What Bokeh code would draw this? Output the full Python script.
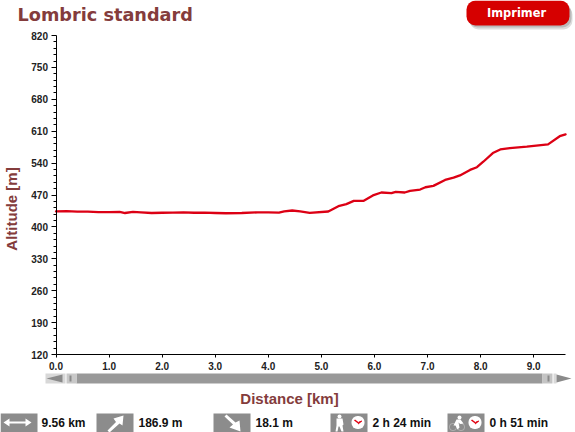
from bokeh.plotting import figure
from bokeh.embed import file_html
from bokeh.resources import INLINE
from bokeh.models import Label, BoxAnnotation, PolyAnnotation, FixedTicker, Range1d, NumeralTickFormatter

TITLE = "Lombric standard"
BUTTON = "Imprimer"
X_TITLE = "Distance [km]"
Y_TITLE = "Altitude [m]"
distance_km = [0, .2, .4, .6, .8, 1.0, 1.2, 1.3, 1.45, 1.6, 1.8, 2.0, 2.2, 2.4, 2.6, 2.8, 3.0, 3.2, 3.5, 3.8, 4.0,
               4.2, 4.3, 4.45, 4.6, 4.78, 5.13, 5.32, 5.47, 5.61, 5.79, 5.97, 6.13, 6.32, 6.40, 6.57, 6.67, 6.86,
               6.96, 7.11, 7.33, 7.49, 7.61, 7.80, 7.93, 8.05, 8.23, 8.37, 8.55, 8.87, 9.27, 9.49, 9.60]
altitude_m = [434, 434.5, 433.5, 433.5, 432.5, 432.5, 433, 430.5, 433, 432, 430.5, 431, 431.5, 432, 431, 431.5, 430.5,
              430, 430.5, 432, 432, 431.5, 434, 436, 434, 431, 433.8, 445.5, 450, 457, 457, 469, 475.5, 474, 477,
              475.5, 479, 482, 487, 490, 503, 508, 513, 525, 531, 543, 562, 570, 573, 576, 581, 599, 603]
y_ticks = [120, 190, 260, 330, 400, 470, 540, 610, 680, 750, 820]
x_ticks = [0, 1, 2, 3, 4, 5, 6, 7, 8, 9]
stat_labels = ["9.56 km", "186.9 m", "18.1 m", "2 h 24 min", "0 h 51 min"]

BROWN = "#843c3c"
RED = "#dc0014"
W, H = 575, 432
# pixel place of the plot area in the page
X0_PX, XK = 55.5, 53.08       # x of km 0, pixels per km
Y820_PX, Y120_PX = 35.0, 354.0
YK = (Y120_PX - Y820_PX) / 700

p = figure(width=W, height=H, output_backend="svg", toolbar_location=None,
           x_range=Range1d(-X0_PX / XK, (W - X0_PX) / XK),
           y_range=Range1d(120 - (H - Y120_PX) / YK, 820 + Y820_PX / YK),
           min_border=0, background_fill_color="white", border_fill_color="white")
p.margin = (0, 0, 0, 0)
p.outline_line_color = None
p.grid.visible = False

p.line(distance_km, altitude_m, line_color=RED, line_width=2.3, line_join="round", line_cap="round")

for ax in (p.xaxis[0], p.yaxis[0]):
    ax.axis_line_color = "black"
    ax.major_tick_line_color = "black"
    ax.minor_tick_line_color = "black"
    ax.major_tick_in = 0
    ax.minor_tick_in = 0
    ax.major_label_text_font = "Liberation Sans"
    ax.major_label_text_font_style = "bold"
    ax.major_label_text_font_size = "10px"
    ax.major_label_text_color = "#222222"
p.xaxis.fixed_location = 120
p.yaxis.fixed_location = 0
p.xaxis.bounds = (0, 9.6)
p.yaxis.bounds = (120, 820)
p.xaxis.ticker = FixedTicker(ticks=x_ticks)
p.yaxis.ticker = FixedTicker(ticks=y_ticks, minor_ticks=[a + 14 * i for a in y_ticks[:-1] for i in range(1, 5)])
p.xaxis.formatter = NumeralTickFormatter(format="0.0")
p.xaxis.major_tick_out = 3
p.yaxis.major_tick_out = 5
p.yaxis.minor_tick_out = 3
p.xaxis.major_label_standoff = 4
p.yaxis.major_label_standoff = 3


def sy(y):
    return H - y


def box(x0, y0, x1, y1, color, radius=0, alpha=1.0):
    p.add_layout(BoxAnnotation(left=x0, right=x1, top=sy(y0), bottom=sy(y1), left_units="screen", right_units="screen",
                               top_units="screen", bottom_units="screen", fill_color=color, fill_alpha=alpha,
                               line_color=None, border_radius=radius, level="overlay"))


def ring(x0, y0, x1, y1, radius):
    p.add_layout(BoxAnnotation(left=x0, right=x1, top=sy(y0), bottom=sy(y1), left_units="screen", right_units="screen",
                               top_units="screen", bottom_units="screen", fill_alpha=0,
                               line_color="white", line_width=1, border_radius=radius, level="overlay"))


def poly(xs, ys, color):
    p.add_layout(PolyAnnotation(xs=xs, ys=[sy(v) for v in ys], xs_units="screen", ys_units="screen", fill_color=color,
                                fill_alpha=1, line_color=None, level="overlay"))


def label(x, y, text, size, color, font="Liberation Sans", align="left", angle=0):
    p.add_layout(Label(x=x, y=sy(y), x_units="screen", y_units="screen", text=text, text_font=font,
                       text_font_size=size, text_font_style="bold", text_color=color, text_align=align,
                       text_baseline="middle", angle=angle, angle_units="deg", level="overlay"))


label(17, 14, TITLE, "17.7px", BROWN, font="DejaVu Sans")
label(11, 208.5, Y_TITLE, "15px", BROWN, align="center", angle=90)
label(289, 398, X_TITLE, "15px", BROWN, align="center")

# button
box(469, 5, 572, 29, "#777777", radius=9, alpha=0.25)
box(468, 3, 571, 27, "#777777", radius=9, alpha=0.35)
box(466, 0, 569, 25, "#d60000", radius=9)
label(516, 12, BUTTON, "11.4px", "white", font="DejaVu Sans", align="center")

# scrollbar
box(76, 373, 542, 383, "#999999")
box(45, 373, 65, 383, "#d8d8d8")
poly([46, 62, 62], [378, 374, 382], "#8a8a8a")
box(66, 373, 76, 383, "#c8c8c8")
box(69, 375, 71, 381, "#8a8a8a")
box(542, 373, 552, 383, "#c4c4c4")
box(547, 375, 549, 381, "#8a8a8a")
box(553, 373, 556, 383, "#d8d8d8")
poly([556, 571, 556], [374, 378, 382], "#8a8a8a")

# stats
for x0 in (0, 96, 213, 330, 447):
    box(x0, 413, x0 + 37, 432, "#8c8c8c")
for x, t in zip((41, 138, 255, 372, 489), stat_labels):
    label(x, 422, t, "12px", "#111111")

# icons
poly([3, 9, 9, 25, 25, 31, 25, 25, 9, 9], [422, 418, 421, 421, 418, 422, 426, 423, 423, 426], "white")
poly([107, 115.5, 113, 123, 122, 119, 109], [430, 421.5, 418, 415, 425, 423, 432], "white")
poly([224, 232.5, 229, 240, 239, 235, 226], [416, 424, 427, 431, 420, 422, 414], "white")
# walker
box(337, 414, 341, 418, "white", radius=2)
poly([336, 342, 343, 342, 343, 341, 339, 338, 337, 335, 336], [418, 418, 424, 425, 431, 431, 426, 426, 431, 431, 425],
     "white")
# cyclist
box(457, 415, 461, 419, "white", radius=2)
poly([453, 456, 460, 463, 460, 458, 459, 457, 455, 455.5], [425, 419, 419, 423, 423.5, 422, 427, 429, 425, 425], "white")
ring(449, 423, 456, 430, 3)
ring(457, 423, 464, 430, 3)
# clocks
for cx in (357.5, 474.5):
    box(cx - 6.5, 415.5, cx + 6.5, 428.5, "white", radius=6)
    poly([cx, cx + 1, cx + 4, cx + 4, cx], [423, 421, 420, 421, 424], "#e00010")
    poly([cx - 4, cx - 3, cx + 1, cx], [420, 419, 422, 423], "#e00010")

open("out.html", "w").write(file_html(p, INLINE))
